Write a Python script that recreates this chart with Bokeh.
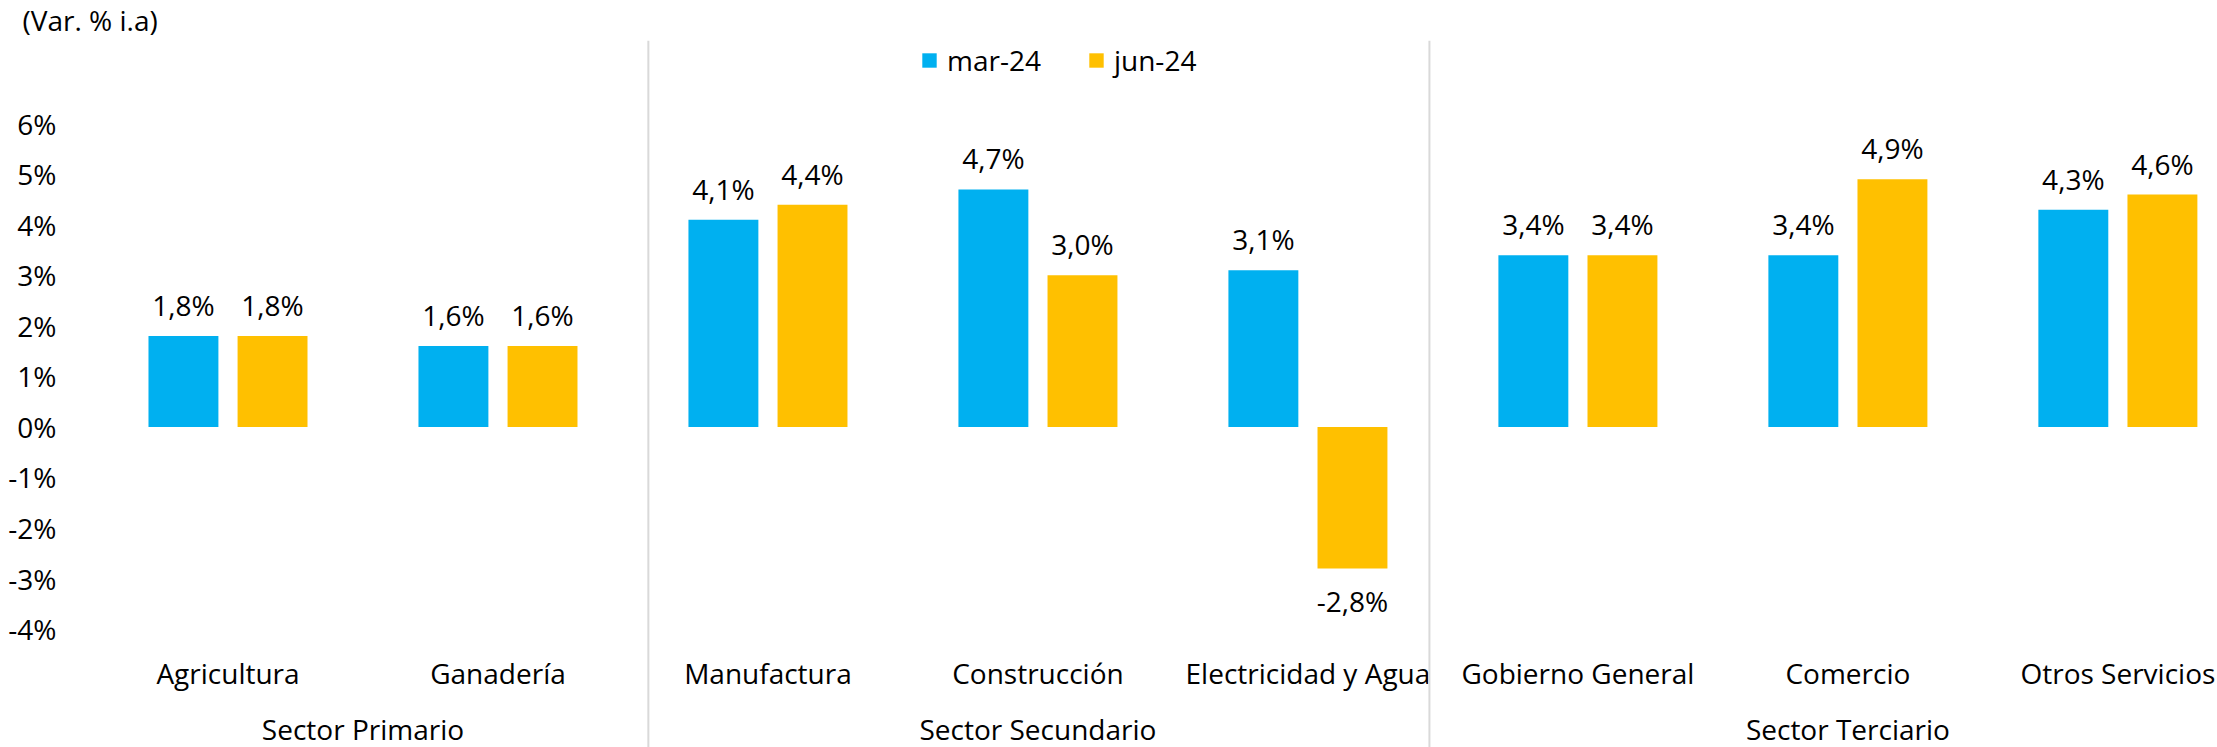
from bokeh.plotting import figure
from bokeh.models import ColumnDataSource, Range1d, FixedTicker, Span, Legend, LegendItem
from bokeh.core.properties import value
from bokeh.embed import file_html
from bokeh.resources import INLINE

# ---------------- data ----------------
categories = ["Agricultura", "Ganadería", "Manufactura", "Construcción",
              "Electricidad y Agua", "Gobierno General", "Comercio", "Otros Servicios"]
sectors = ["Sector Primario", "Sector Secundario", "Sector Terciario"]
sector_sizes = [2, 3, 3]
series_names = ["mar-24", "jun-24"]
mar24 = [1.8, 1.6, 4.1, 4.7, 3.1, 3.4, 3.4, 4.3]
jun24 = [1.8, 1.6, 4.4, 3.0, -2.8, 3.4, 4.9, 4.6]
y_ticks = [-4, -3, -2, -1, 0, 1, 2, 3, 4, 5, 6]
y_tick_labels = ["-4%", "-3%", "-2%", "-1%", "0%", "1%", "2%", "3%", "4%", "5%", "6%"]
title_text = "(Var. % i.a)"

# ---------------- style ----------------
BLUE = "#00B0F0"
GOLD = "#FFC000"
FONT = "Open Sans"
FS = "28px"
W, H = 2217, 747
BAR_W = 0.259
OFF = 0.165
TOP = 39

p = figure(width=W, height=H, output_backend="svg", toolbar_location=None,
           x_range=Range1d(0.00185, 7.869), y_range=Range1d(-6.344, (426 - TOP) / 50.6),
           x_axis_location=None, min_border_left=93, min_border_right=0,
           min_border_top=TOP, min_border_bottom=0, outline_line_color=None,
           title=title_text)
p.grid.visible = False
p.background_fill_color = "white"
p.border_fill_color = "white"

p.title.text_font = FONT
p.title.text_font_size = FS
p.title.text_font_style = "normal"
p.title.text_color = "black"
p.title.align = "left"
p.title.offset = -71
p.title.standoff = 0
p.title.vertical_align = "top"

yax = p.yaxis[0]
yax.ticker = FixedTicker(ticks=y_ticks)
yax.major_label_overrides = {t: l for t, l in zip(y_ticks, y_tick_labels)}
yax.axis_line_color = None
yax.major_tick_line_color = None
yax.minor_tick_line_color = None
yax.major_label_standoff = 31
yax.major_label_text_font = FONT
yax.major_label_text_font_size = FS
yax.major_label_text_color = "black"

centers = [i + 0.5 for i in range(len(categories))]

src_a = ColumnDataSource(dict(x=[c - OFF for c in centers], top=mar24))
src_b = ColumnDataSource(dict(x=[c + OFF for c in centers], top=jun24))
ra = p.vbar(x="x", top="top", bottom=0, width=BAR_W, source=src_a, fill_color=BLUE, line_color=None)
rb = p.vbar(x="x", top="top", bottom=0, width=BAR_W, source=src_b, fill_color=GOLD, line_color=None)

# data labels
def fmt(v):
    return f"{v:.1f}".replace(".", ",") + "%"

lx, ly, lt, lo = [], [], [], []
for vals, off in ((mar24, -OFF), (jun24, OFF)):
    for c, v in zip(centers, vals):
        lx.append(c + off)
        ly.append(v)
        lt.append(fmt(v))
        lo.append(-31 if v >= 0 else 33)
p.text(x="x", y="y", text="t", y_offset="o",
       source=ColumnDataSource(dict(x=lx, y=ly, t=lt, o=lo)),
       text_align="center", text_baseline="middle",
       text_font=value(FONT), text_font_size=FS, text_color="black")

# category labels
p.text(x=centers, y=[-4.862] * len(categories), text=categories,
       text_align="center", text_baseline="middle",
       text_font=value(FONT), text_font_size=FS, text_color="black")

# sector labels
gc, start = [], 0
for n in sector_sizes:
    gc.append(start + n / 2)
    start += n
p.text(x=gc, y=[-5.97] * len(sectors), text=sectors,
       text_align="center", text_baseline="middle",
       text_font=value(FONT), text_font_size=FS, text_color="black")

# separators
for loc in (2.057, 4.950):
    p.add_layout(Span(location=loc, dimension="height", line_color="#d9d9d9", line_width=2))

legend = Legend(items=[LegendItem(label=series_names[0], renderers=[ra]),
                       LegendItem(label=series_names[1], renderers=[rb])],
                orientation="horizontal", location=(827, 668),
                glyph_width=18, glyph_height=18, label_standoff=9, spacing=46,
                padding=0, margin=0, border_line_color=None, background_fill_alpha=0,
                label_text_font=FONT, label_text_font_size=FS, label_text_color="black")
p.add_layout(legend)

open("out.html", "w").write(file_html(p, INLINE))
